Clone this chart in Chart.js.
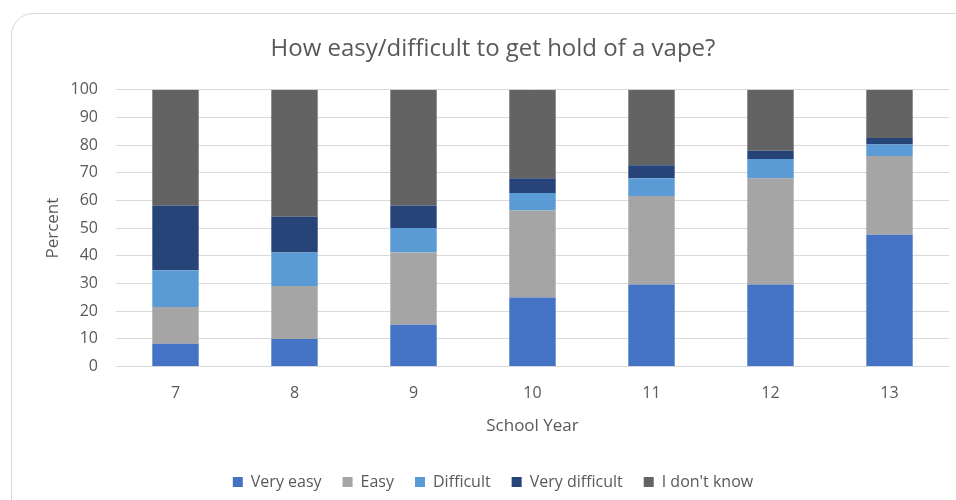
<!DOCTYPE html>
<html>
<head>
<meta charset="utf-8">
<script src="https://cdn.jsdelivr.net/npm/chart.js@4/dist/chart.umd.min.js"></script>
<style>
  body { margin: 0; background: #fff; }
  #wrap { position: relative; width: 956px; height: 500px; overflow: hidden; }
  #frame { position: absolute; left: 11px; top: 13px; width: 1000px; height: 600px;
           border: 1px solid #d9d9d9; border-top-left-radius: 22px; }
  #box { position: absolute; left: 0; top: 0; width: 956px; height: 500px; }
</style>
</head>
<body>
<div id="wrap">
  <div id="frame"></div>
  <div id="box"><canvas id="myChart"></canvas></div>
</div>
<script>
// school years on the x axis
const years = ['7', '8', '9', '10', '11', '12', '13'];
// percent answering
const veryEasy      = [8.2, 9.9, 15.1, 24.9, 29.6, 29.6, 47.6];
const easy          = [13.3, 19.2, 26.1, 31.5, 32.0, 38.4, 28.5];
const difficult     = [13.3, 12.1, 8.8, 6.3, 6.4, 7.0, 4.1];
const veryDifficult = [23.4, 12.9, 8.2, 5.3, 4.7, 3.0, 2.4];
const dontKnow      = [41.8, 45.9, 41.8, 32.0, 27.3, 22.0, 17.4];
const yTicks = [0, 10, 20, 30, 40, 50, 60, 70, 80, 90, 100];

const txt = '#595959';
const fam = "'Open Sans', sans-serif";

const ctx = document.getElementById('myChart').getContext('2d');
const myChart = new Chart(ctx, {
  type: 'bar',
  data: {
    labels: years,
    datasets: [
      { label: 'Very easy', data: veryEasy, backgroundColor: '#4472c4' },
      { label: 'Easy', data: easy, backgroundColor: '#a5a5a5' },
      { label: 'Difficult', data: difficult, backgroundColor: '#5b9bd5' },
      { label: 'Very difficult', data: veryDifficult, backgroundColor: '#264478' },
      { label: "I don't know", data: dontKnow, backgroundColor: '#636363' }
    ]
  },
  options: {
    responsive: true,
    maintainAspectRatio: false,
    animation: false,
    datasets: { bar: { categoryPercentage: 1, barPercentage: 0.39, borderWidth: 0 } },
    layout: { padding: { left: 37, right: 7, top: 0, bottom: 0 } },
    plugins: {
      title: {
        display: true,
        text: 'How easy/difficult to get hold of a vape?',
        color: txt,
        font: { family: fam, size: 24, weight: 'normal' },
        padding: { top: 35, bottom: 26 }
      },
      legend: {
        position: 'bottom',
        labels: {
          color: txt,
          font: { family: fam, size: 16 },
          boxWidth: 10,
          boxHeight: 10,
          padding: 21
        }
      },
      tooltip: { enabled: false }
    },
    scales: {
      x: {
        stacked: true,
        grid: { display: false, drawTicks: false },
        border: { color: '#d9d9d9' },
        ticks: { color: txt, font: { family: fam, size: 16 }, padding: 17 },
        title: {
          display: true, text: 'School Year', color: txt,
          font: { family: fam, size: 17 },
          padding: { top: -4, bottom: 17 }
        }
      },
      y: {
        stacked: true,
        min: 0,
        max: 100,
        afterBuildTicks: s => { s.ticks = yTicks.map(v => ({ value: v })); },
        afterFit: s => { s.width = 79; },
        grid: { color: '#d9d9d9', drawTicks: false },
        border: { display: false },
        ticks: { color: txt, font: { family: fam, size: 16 }, padding: 18 },
        title: {
          display: true, text: 'Percent', color: txt,
          font: { family: fam, size: 17 },
          padding: { top: 6, bottom: 0 }
        }
      }
    }
  }
});
</script>
</body>
</html>
